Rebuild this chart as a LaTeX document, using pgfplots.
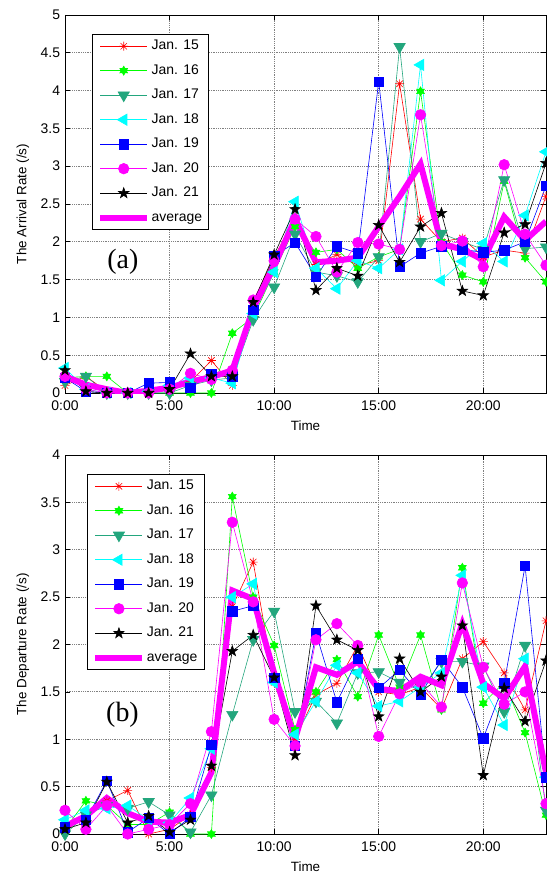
\documentclass[border=0pt]{standalone}
\usepackage{fontspec}
\setmainfont{Liberation Sans}
\newfontfamily\panelfont{Liberation Serif}
\usepackage{pgfplots}
\usepackage{pgfplotstable}
\pgfplotsset{compat=1.18}

\definecolor{c15}{RGB}{255,0,0}
\definecolor{c16}{RGB}{0,255,0}
\definecolor{c17}{RGB}{35,166,125}
\definecolor{c18}{RGB}{0,255,255}
\definecolor{c19}{RGB}{0,0,255}
\definecolor{c20}{RGB}{255,0,255}
\definecolor{c21}{RGB}{0,0,0}

% eight-armed asterisk
\pgfdeclareplotmark{ast8}{%
  \pgfpathmoveto{\pgfqpoint{-\pgfplotmarksize}{0pt}}\pgfpathlineto{\pgfqpoint{\pgfplotmarksize}{0pt}}%
  \pgfpathmoveto{\pgfqpoint{0pt}{-\pgfplotmarksize}}\pgfpathlineto{\pgfqpoint{0pt}{\pgfplotmarksize}}%
  \pgfpathmoveto{\pgfqpoint{-.7071\pgfplotmarksize}{-.7071\pgfplotmarksize}}\pgfpathlineto{\pgfqpoint{.7071\pgfplotmarksize}{.7071\pgfplotmarksize}}%
  \pgfpathmoveto{\pgfqpoint{-.7071\pgfplotmarksize}{.7071\pgfplotmarksize}}\pgfpathlineto{\pgfqpoint{.7071\pgfplotmarksize}{-.7071\pgfplotmarksize}}%
  \pgfusepathqstroke}
% filled six-pointed star
\pgfdeclareplotmark{hexa}{%
  \pgfpathmoveto{\pgfpointpolar{90}{\pgfplotmarksize}}%
  \pgfpathlineto{\pgfpointpolar{120}{.577\pgfplotmarksize}}%
  \pgfpathlineto{\pgfpointpolar{150}{\pgfplotmarksize}}%
  \pgfpathlineto{\pgfpointpolar{180}{.577\pgfplotmarksize}}%
  \pgfpathlineto{\pgfpointpolar{210}{\pgfplotmarksize}}%
  \pgfpathlineto{\pgfpointpolar{240}{.577\pgfplotmarksize}}%
  \pgfpathlineto{\pgfpointpolar{270}{\pgfplotmarksize}}%
  \pgfpathlineto{\pgfpointpolar{300}{.577\pgfplotmarksize}}%
  \pgfpathlineto{\pgfpointpolar{330}{\pgfplotmarksize}}%
  \pgfpathlineto{\pgfpointpolar{0}{.577\pgfplotmarksize}}%
  \pgfpathlineto{\pgfpointpolar{30}{\pgfplotmarksize}}%
  \pgfpathlineto{\pgfpointpolar{60}{.577\pgfplotmarksize}}%
  \pgfpathclose\pgfusepathqfillstroke}
% filled five-pointed star
\pgfdeclareplotmark{penta}{%
  \pgfpathmoveto{\pgfpointpolar{90}{\pgfplotmarksize}}%
  \pgfpathlineto{\pgfpointpolar{126}{.4\pgfplotmarksize}}%
  \pgfpathlineto{\pgfpointpolar{162}{\pgfplotmarksize}}%
  \pgfpathlineto{\pgfpointpolar{198}{.4\pgfplotmarksize}}%
  \pgfpathlineto{\pgfpointpolar{234}{\pgfplotmarksize}}%
  \pgfpathlineto{\pgfpointpolar{270}{.4\pgfplotmarksize}}%
  \pgfpathlineto{\pgfpointpolar{306}{\pgfplotmarksize}}%
  \pgfpathlineto{\pgfpointpolar{342}{.4\pgfplotmarksize}}%
  \pgfpathlineto{\pgfpointpolar{18}{\pgfplotmarksize}}%
  \pgfpathlineto{\pgfpointpolar{54}{.4\pgfplotmarksize}}%
  \pgfpathclose\pgfusepathqfillstroke}

% arrival rate (/s), hour of day
\pgfplotstableread{
h  j15  j16  j17  j18  j19  j20  j21  avg
0  0.10 0.20 0.15 0.33 0.20 0.22 0.30 0.22
1  0.22 0.22 0.22 0.05 0.02 0.05 0.02 0.11
2  0.02 0.22 0.00 0.00 0.00 0.00 0.00 0.05
3  0.00 0.00 0.00 0.00 0.00 0.00 0.00 0.00
4  0.00 0.00 0.00 0.02 0.13 0.00 0.00 0.03
5  0.05 0.00 0.00 0.10 0.14 0.05 0.05 0.07
6  0.15 0.00 0.10 0.20 0.07 0.26 0.52 0.15
7  0.43 0.00 0.17 0.20 0.25 0.18 0.22 0.21
8  0.10 0.79 0.20 0.13 0.22 0.30 0.22 0.30
9  1.20 1.00 0.97 1.05 1.10 1.23 1.20 1.12
10 1.80 1.60 1.40 1.60 1.81 1.75 1.83 1.68
11 2.30 2.20 2.10 2.53 1.99 2.30 2.43 2.30
12 1.70 1.86 1.60 1.65 1.54 2.07 1.36 1.73
13 1.83 1.90 1.55 1.38 1.94 1.60 1.65 1.75
14 1.69 1.65 1.47 1.75 1.85 1.99 1.55 1.79
15 1.75 1.80 1.80 1.65 4.12 1.97 2.22 2.20
16 4.09 1.90 4.58 1.90 1.67 1.90 1.73 2.60
17 2.30 3.99 2.00 4.34 1.85 3.68 2.20 3.03
18 2.00 2.00 2.11 1.49 1.94 1.95 2.38 1.97
19 2.05 1.56 2.00 1.74 1.90 2.01 1.35 1.90
20 1.80 1.47 1.90 1.98 1.86 1.67 1.29 1.76
21 1.89 2.80 2.82 1.74 1.89 3.02 2.12 2.33
22 1.85 1.79 1.91 2.35 2.00 2.10 2.23 2.02
23 2.60 1.47 1.93 3.19 2.74 1.69 3.04 2.27
}\arrival

% departure rate (/s), hour of day
\pgfplotstableread{
h  j15  j16  j17  j18  j19  j20  j21  avg
0  0.03 0.05 0.00 0.15 0.07 0.25 0.05 0.08
1  0.20 0.35 0.20 0.25 0.15 0.05 0.12 0.19
2  0.35 0.30 0.30 0.27 0.56 0.30 0.55 0.38
3  0.46 0.10 0.27 0.30 0.02 0.00 0.12 0.22
4  0.00 0.10 0.34 0.15 0.17 0.05 0.19 0.13
5  0.05 0.23 0.20 0.12 0.00 0.10 0.02 0.12
6  0.20 0.00 0.02 0.38 0.18 0.32 0.15 0.20
7  0.70 0.00 0.41 0.90 0.94 1.08 0.72 0.65
8  2.40 3.56 1.26 2.50 2.35 3.29 1.93 2.57
9  2.87 2.50 2.05 2.64 2.41 2.45 2.10 2.48
10 1.60 1.99 2.35 1.60 1.65 1.21 1.65 1.70
11 1.00 1.10 1.29 1.05 0.93 0.93 0.83 1.00
12 1.47 1.50 1.40 1.40 2.12 2.05 2.41 1.76
13 1.59 1.84 1.17 1.78 1.39 2.22 2.05 1.68
14 1.99 1.45 1.70 1.70 1.85 1.99 1.94 1.82
15 1.50 2.10 1.71 1.35 1.54 1.03 1.24 1.53
16 1.47 1.55 1.60 1.40 1.73 1.48 1.85 1.51
17 1.55 2.10 1.52 1.55 1.47 1.60 1.50 1.66
18 1.32 1.31 1.82 1.70 1.84 1.34 1.66 1.57
19 1.85 2.81 1.82 2.73 1.55 2.65 2.20 2.22
20 2.03 1.38 1.77 1.55 1.01 1.76 0.62 1.59
21 1.70 1.60 1.29 1.15 1.59 1.37 1.54 1.43
22 1.31 1.07 1.99 1.85 2.83 1.50 1.19 1.77
23 2.25 0.20 0.25 0.60 0.60 0.32 1.83 0.65
}\departure

\pgfplotsset{
  rateaxis/.style={
    scale only axis, width=481bp,
    xmin=0, xmax=23, ymin=0,
    xtick={0,5,10,15,20}, xticklabels={0:00,5:00,10:00,15:00,20:00},
    ytick distance=0.5,
    tick pos=both, xticklabel pos=lower, yticklabel pos=left,
    tick align=inside, major tick length=5bp,
    tick style={black, line width=0.6bp},
    axis line style={line width=0.9bp},
    grid=major,
    grid style={black!50, line width=0.8bp, dash pattern=on 0.9bp off 0.9bp},
    /pgf/number format/assume math mode=true,
    yticklabel style={/pgf/number format/fixed, xshift=-3.7bp},
    xticklabel style={yshift=-6.5bp},
    ticklabel style={font=\fontsize{14}{16}\selectfont, inner sep=1bp},
    xlabel=Time,
    xlabel style={at={(axis description cs:0.5,-0.086)}, anchor=center,
      font=\fontsize{13.5}{15}\selectfont},
    ylabel style={anchor=center, font=\fontsize{13.5}{15}\selectfont},
    legend cell align=left,
    legend style={anchor=north west, draw=black, line width=0.6bp,
      font=\fontsize{14}{16}\selectfont,
      inner xsep=5bp, inner ysep=3.5bp, row sep=7.5bp,
      nodes={inner sep=1.5bp, text height=10.5bp, text depth=3.5bp}},
    legend image code/.code={%
      \draw[mark repeat=2,mark phase=2,#1] plot coordinates {(0bp,0bp) (23.5bp,0bp) (47bp,0bp)};},
    daily/.style={line width=0.6bp},
  },
}

\begin{document}
\begin{tikzpicture}
\useasboundingbox (-65bp,-480bp) rectangle (482bp,393bp);

\begin{axis}[rateaxis, height=378bp, ymax=5,
  at={(0bp,0bp)}, anchor=south west,
  ylabel={The Arrival Rate (/s)},
  ylabel style={at={(axis description cs:-0.0873,0.5)}},
  legend style={at={(axis description cs:0.056,0.95)}}]
\addplot[daily, c15, mark=ast8, mark size=4.5bp] table[x=h, y=j15] {\arrival};
\addplot[daily, c16, mark=hexa, mark size=4.5bp, mark options={fill=c16}] table[x=h, y=j16] {\arrival};
\addplot[daily, c17, mark=triangle*, mark size=6.5bp, mark options={fill=c17, rotate=180}] table[x=h, y=j17] {\arrival};
\addplot[daily, c18, mark=triangle*, mark size=6.5bp, mark options={fill=c18, rotate=90}] table[x=h, y=j18] {\arrival};
\addplot[daily, c19, mark=square*, mark size=4.7bp, mark options={fill=c19}] table[x=h, y=j19] {\arrival};
\addplot[daily, c20, mark=*, mark size=5.3bp, mark options={fill=c20}] table[x=h, y=j20] {\arrival};
\addplot[daily, c21, mark=penta, mark size=5.5bp, mark options={fill=c21}] table[x=h, y=j21] {\arrival};
\addplot[c20, line width=6bp, no marks] table[x=h, y=avg] {\arrival};
\legend{Jan. 15,Jan. 16,Jan. 17,Jan. 18,Jan. 19,Jan. 20,Jan. 21,average}
\node[font=\panelfont\fontsize{28}{30}\selectfont] at (axis cs:2.77,1.73) {(a)};
\end{axis}

\begin{axis}[rateaxis, height=379bp, ymax=4,
  at={(0bp,-441bp)}, anchor=south west,
  ylabel={The Departure Rate (/s)},
  ylabel style={at={(axis description cs:-0.0873,0.5)}},
  legend style={at={(axis description cs:0.046,0.95)}}]
\addplot[daily, c15, mark=ast8, mark size=4.5bp] table[x=h, y=j15] {\departure};
\addplot[daily, c16, mark=hexa, mark size=4.5bp, mark options={fill=c16}] table[x=h, y=j16] {\departure};
\addplot[daily, c17, mark=triangle*, mark size=6.5bp, mark options={fill=c17, rotate=180}] table[x=h, y=j17] {\departure};
\addplot[daily, c18, mark=triangle*, mark size=6.5bp, mark options={fill=c18, rotate=90}] table[x=h, y=j18] {\departure};
\addplot[daily, c19, mark=square*, mark size=4.7bp, mark options={fill=c19}] table[x=h, y=j19] {\departure};
\addplot[daily, c20, mark=*, mark size=5.3bp, mark options={fill=c20}] table[x=h, y=j20] {\departure};
\addplot[daily, c21, mark=penta, mark size=5.5bp, mark options={fill=c21}] table[x=h, y=j21] {\departure};
\addplot[c20, line width=6bp, no marks] table[x=h, y=avg] {\departure};
\legend{Jan. 15,Jan. 16,Jan. 17,Jan. 18,Jan. 19,Jan. 20,Jan. 21,average}
\node[font=\panelfont\fontsize{28}{30}\selectfont] at (axis cs:2.75,1.26) {(b)};
\end{axis}
\end{tikzpicture}
\end{document}
